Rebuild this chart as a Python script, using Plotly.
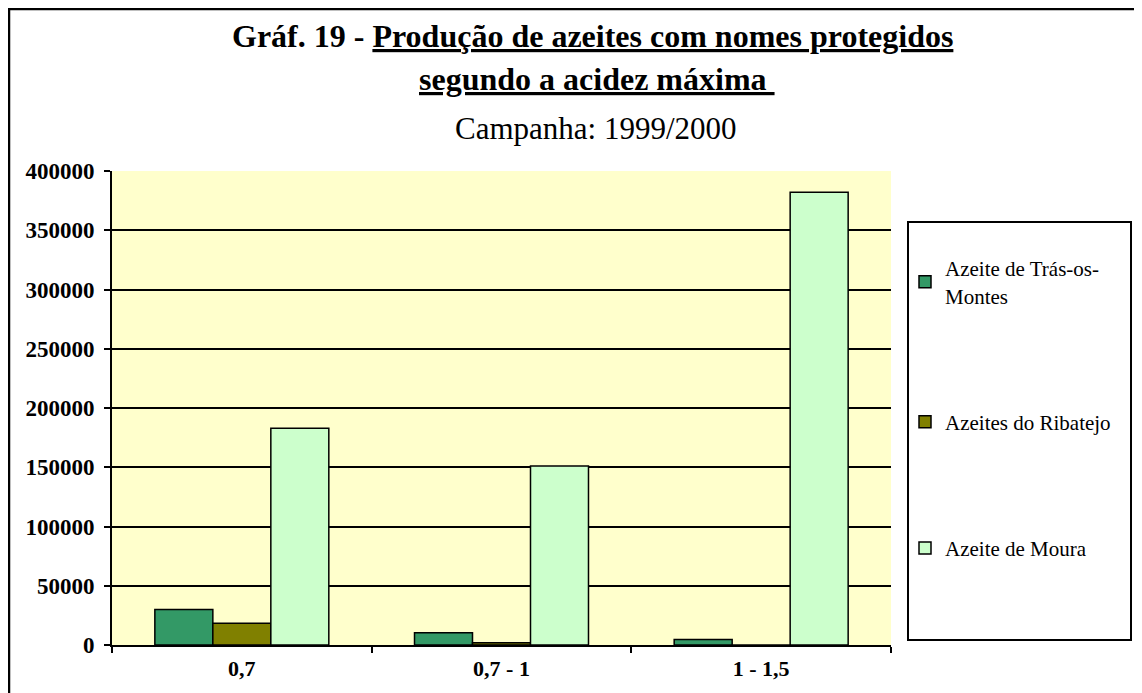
#$ Import necessary libraries
import plotly.graph_objects as go

#@ Data
categories = ['0,7', '0,7 - 1', '1 - 1,5']
tras_os_montes = [30000, 10300, 4700]
ribatejo = [18300, 1900, 0]
moura = [183000, 151000, 382000]

series_names = ['Azeite de Trás-os-<br>Montes', 'Azeites do Ribatejo', 'Azeite de Moura']
series_values = [tras_os_montes, ribatejo, moura]
series_colors = ['#339966', '#808000', '#CCFFCC']

y_ticks = [0, 50000, 100000, 150000, 200000, 250000, 300000, 350000, 400000]

#$ Layout constants (figure pixels; the page adds an 8px body margin)
W, H = 1142, 693
L, R, T, B = 104, 259, 163, 56
pw, ph = W - L - R, H - T - B


def px_x(x):
    return (x - L) / pw


def px_y(y):
    return (H - B - y) / ph


serif = 'Liberation Serif, Times New Roman, serif'

#! Build the figure
fig = go.Figure()
for i, (name, vals, col) in enumerate(zip(series_names, series_values, series_colors)):
    fig.add_trace(go.Bar(
        x=categories, y=vals, name=name, legendgroup=str(i),
        marker=dict(color=col, line=dict(color='black', width=1.5))
    ))

fig.update_layout(
    width=W, height=H,
    margin=dict(l=L, r=R, t=T, b=B),
    paper_bgcolor='white', plot_bgcolor='#FFFFCC',
    barmode='group', bargap=0.33, bargroupgap=0,
    font=dict(family=serif, color='black'),
    showlegend=True,
    legend=dict(
        x=px_x(897), y=px_y(240), xanchor='left', yanchor='top',
        font=dict(family=serif, size=21, color='black'),
        bgcolor='rgba(0,0,0,0)', tracegroupgap=96, traceorder='grouped',
        itemwidth=30
    ),
)

fig.update_xaxes(
    showline=True, linecolor='black', linewidth=2,
    ticks='outside', tickson='boundaries', ticklen=6, tickcolor='black', tickwidth=2,
    tickfont=dict(family=serif, size=22, color='black', weight='bold'),
    ticklabelstandoff=3, showgrid=False
)
fig.update_yaxes(
    range=[0, 400000], tickvals=y_ticks, ticktext=[str(v) for v in y_ticks],
    showline=True, linecolor='black', linewidth=2,
    ticks='outside', ticklen=6, tickcolor='black', tickwidth=2,
    tickfont=dict(family=serif, size=23, color='black', weight='bold'),
    ticklabelstandoff=5, showgrid=True, gridcolor='black', gridwidth=1.5, zeroline=False
)

#@ Title lines
fig.add_annotation(
    text='<b>Gráf. 19 - <u>Produção de azeites com nomes protegidos</u></b>',
    x=px_x(584), y=px_y(28), xref='paper', yref='paper', showarrow=False,
    xanchor='center', yanchor='middle',
    font=dict(family=serif, size=32, color='black')
)
fig.add_annotation(
    text='<b><u>segundo a acidez máxima </u></b>',
    x=px_x(589), y=px_y(71), xref='paper', yref='paper', showarrow=False,
    xanchor='center', yanchor='middle',
    font=dict(family=serif, size=32, color='black')
)
fig.add_annotation(
    text='Campanha: 1999/2000',
    x=px_x(588), y=px_y(120), xref='paper', yref='paper', showarrow=False,
    xanchor='center', yanchor='middle',
    font=dict(family=serif, size=31, color='black')
)

#@ Legend box and outer frame
fig.add_shape(type='rect', xref='paper', yref='paper',
              x0=px_x(900), x1=px_x(1123), y0=px_y(632), y1=px_y(214),
              line=dict(color='black', width=2), fillcolor='rgba(0,0,0,0)')
fig.add_shape(type='rect', xref='paper', yref='paper',
              x0=px_x(1), x1=px_x(1160), y0=px_y(710), y1=px_y(1),
              line=dict(color='black', width=2.5), fillcolor='rgba(0,0,0,0)')

fig.write_html('out.html')
